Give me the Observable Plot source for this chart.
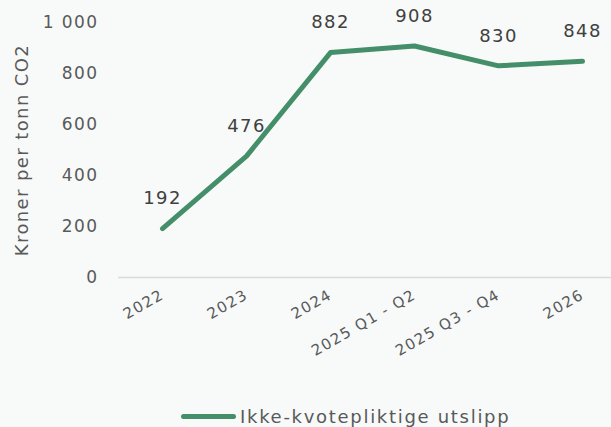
<!DOCTYPE html>
<html>
<head>
<meta charset="utf-8">
<script src="https://cdn.jsdelivr.net/npm/d3@7"></script>
<script src="https://cdn.jsdelivr.net/npm/@observablehq/plot@0.6"></script>
<style>
  html, body { margin: 0; padding: 0; background: #f7faf9; }
  body { width: 611px; height: 427px; overflow: hidden; font-family: "DejaVu Sans", sans-serif; }
  #chart svg text { letter-spacing: 1.4px; }
  #legend { position: relative; height: 37px; display: flex; align-items: center; padding-left: 181px; padding-top: 16px; box-sizing: border-box; }
  #legend .sw { width: 55px; height: 5px; border-radius: 3px; background: #448f6a; margin-right: 4px; }
  #legend .tx { font-size: 18px; color: #595959; white-space: nowrap; letter-spacing: 1.7px; }
</style>
</head>
<body>
<div id="chart"></div>
<div id="legend"><span class="sw"></span><span class="tx">Ikke-kvotepliktige utslipp</span></div>
<script>
const categories = ["2022", "2023", "2024", "2025 Q1 - Q2", "2025 Q3 - Q4", "2026"];
const values = [192, 476, 882, 908, 830, 848];
const yTicks = [0, 200, 400, 600, 800, 1000];
const seriesName = "Ikke-kvotepliktige utslipp";
const yLabel = "Kroner per tonn CO2";

const data = categories.map((c, i) => ({ cat: c, value: values[i] }));

const chart = Plot.plot({
  width: 611,
  height: 390,
  marginTop: 22,
  marginBottom: 113,
  marginLeft: 118,
  marginRight: 0,
  style: { background: "transparent", fontFamily: "DejaVu Sans, sans-serif", color: "#595959" },
  x: { type: "point", domain: categories, padding: 0, insetLeft: 42, insetRight: 28 },
  y: { domain: [0, 1000] },
  marks: [
    Plot.ruleY([0], { stroke: "#d9d9d9", strokeWidth: 1.5 }),
    Plot.axisY({
      ticks: yTicks, tickSize: 0, tickPadding: 20, fontSize: 17, fill: "#595959",
      tickFormat: d => d === 1000 ? "1 000" : String(d),
      label: null
    }),
    Plot.text([yLabel], { frameAnchor: "left", textAnchor: "middle", rotate: -90, dx: -96, fontSize: 18, fill: "#595959" }),
    Plot.axisX({
      tickSize: 0, tickRotate: -30, fontSize: 15, fill: "#595959", tickPadding: 16, label: null
    }),
    Plot.line(data, { x: "cat", y: "value", stroke: "#448f6a", strokeWidth: 5, strokeLinecap: "round", strokeLinejoin: "round" }),
    Plot.text(data, { x: "cat", y: "value", text: d => String(d.value), dy: -30, fontSize: 18, fill: "#404040" })
  ]
});
document.getElementById("chart").appendChild(chart);
</script>
</body>
</html>
